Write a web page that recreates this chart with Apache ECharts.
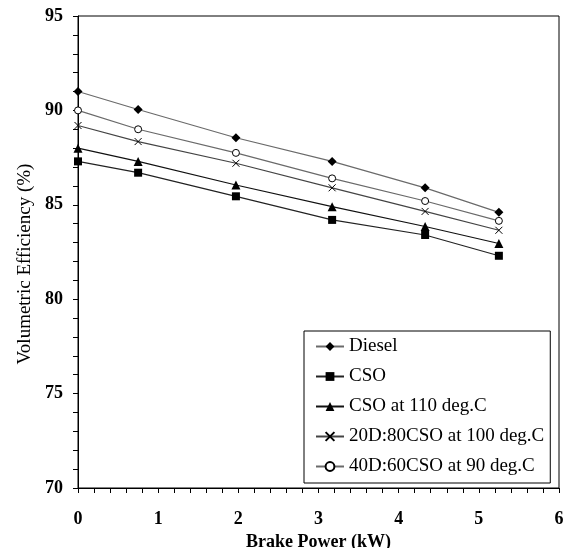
<!DOCTYPE html>
<html><head><meta charset="utf-8">
<script src="https://cdn.jsdelivr.net/npm/echarts@6/dist/echarts.min.js"></script>
<style>html,body{margin:0;padding:0;background:#fff}#c{width:566px;height:548px}</style>
</head><body><div id="c"></div>
<script>
const brakePower = [0, 0.75, 1.97, 3.17, 4.33, 5.25];
const diesel = [91.0, 90.05, 88.55, 87.3, 85.9, 84.6];
const cso = [87.3, 86.7, 85.45, 84.2, 83.4, 82.3];
const cso110 = [88.0, 87.3, 86.05, 84.9, 83.85, 82.95];
const d20cso80 = [89.2, 88.35, 87.2, 85.9, 84.65, 83.65];
const d40cso60 = [90.0, 89.0, 87.75, 86.4, 85.2, 84.15];
const seriesNames = ['Diesel', 'CSO', 'CSO at 110 deg.C', '20D:80CSO at 100 deg.C', '40D:60CSO at 90 deg.C'];
const xTicks = [0, 1, 2, 3, 4, 5, 6];
const yTicks = [70, 75, 80, 85, 90, 95];

const pair = arr => brakePower.map((x, i) => [x, arr[i]]);
const crossPath = 'path://M0,0L10,10M10,0L0,10';
const font = '"Liberation Serif","Times New Roman",serif';

const styles = [
  {data: diesel, symbol: 'diamond', size: 9, line: '#6a6a6a', item: {color: '#000'}},
  {data: cso, symbol: 'rect', size: 8, line: '#222', item: {color: '#000'}},
  {data: cso110, symbol: 'triangle', size: 9, line: '#111', item: {color: '#000'}},
  {data: d20cso80, symbol: crossPath, size: 7, line: '#444', item: {color: 'rgba(0,0,0,0)', borderColor: '#000', borderWidth: 1}},
  {data: d40cso60, symbol: 'circle', size: 7, line: '#6a6a6a', item: {color: '#fff', borderColor: '#000', borderWidth: 1}}
];

const chart = echarts.init(document.getElementById('c'), null, {renderer: 'canvas'});
chart.setOption({
  animation: false,
  backgroundColor: '#fff',
  textStyle: {fontFamily: font},
  grid: {left: 78, top: 16, right: 7, bottom: 60, containLabel: false, outerBoundsMode: 'none',
    show: true, borderColor: '#000', borderWidth: 1, backgroundColor: 'transparent'},
  legend: {
    orient: 'vertical', left: 304, top: 331,
    padding: [6, 6, 7, 11], itemGap: 11, itemWidth: 28, itemHeight: 11,
    backgroundColor: '#fff', borderColor: '#000', borderWidth: 1,
    textStyle: {fontFamily: font, fontSize: 19, lineHeight: 19, color: '#000'},
    data: seriesNames
  },
  xAxis: {
    type: 'value', min: xTicks[0], max: xTicks[xTicks.length - 1], interval: 1,
    name: 'Brake Power (kW)', nameLocation: 'middle', nameGap: 47,
    nameTextStyle: {fontFamily: font, fontSize: 18, fontWeight: 'bold', color: '#000', verticalAlign: 'middle'},
    axisLine: {show: true, lineStyle: {color: '#000', width: 1}},
    axisTick: {show: true, length: 5, inside: false, lineStyle: {color: '#000'}},
    minorTick: {show: true, splitNumber: 5, length: 5, lineStyle: {color: '#000'}},
    splitLine: {show: false},
    axisLabel: {margin: 22, fontFamily: font, fontSize: 18, fontWeight: 'bold', color: '#000'}
  },
  yAxis: {
    type: 'value', min: yTicks[0], max: yTicks[yTicks.length - 1], interval: 5,
    name: 'Volumetric Efficiency (%)', nameLocation: 'middle', nameGap: 53,
    nameTextStyle: {fontFamily: font, fontSize: 19, color: '#000', verticalAlign: 'middle', padding: [0, 24, 0, 0]},
    axisLine: {show: true, lineStyle: {color: '#000', width: 1}},
    axisTick: {show: true, length: 5, inside: false, lineStyle: {color: '#000'}},
    minorTick: {show: true, splitNumber: 5, length: 5, lineStyle: {color: '#000'}},
    splitLine: {show: false},
    axisLabel: {margin: 15, fontFamily: font, fontSize: 18, fontWeight: 'bold', color: '#000'}
  },
  series: styles.map((s, i) => ({
    name: seriesNames[i], type: 'line', data: pair(s.data),
    symbol: s.symbol, symbolSize: s.size, showSymbol: true,
    lineStyle: {color: s.line, width: 1.2},
    itemStyle: s.item,
    z: 3
  }))
});
</script></body></html>
